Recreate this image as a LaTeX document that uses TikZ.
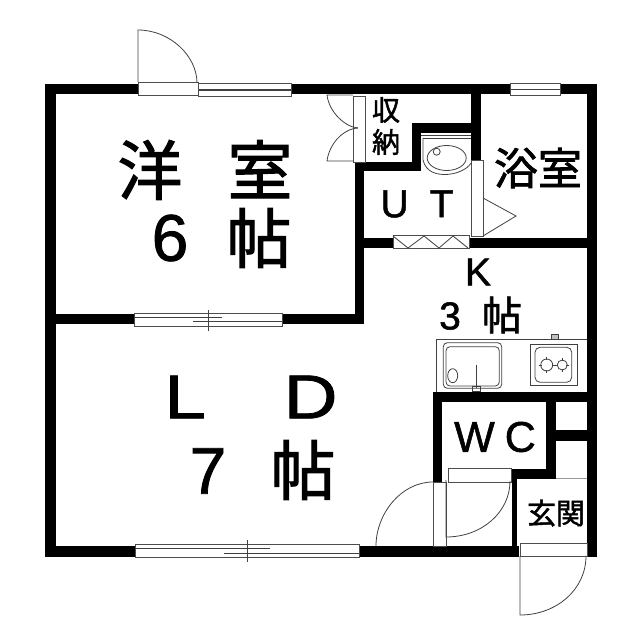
\documentclass[tikz,border=0pt]{standalone}
\usepackage{fontspec}
\setmainfont[FakeBold=1.2]{Liberation Sans}
\newfontfamily\jpfont[FakeBold=1.6]{Noto Sans CJK JP}
\tikzset{
  wall/.style={fill=black},
  fitting/.style={draw=black!70,line width=0.8pt,fill=white},
  thinline/.style={draw=black!75,line width=0.8pt},
  bigtext/.style={font=\fontsize{65}{65}\selectfont\jpfont,inner sep=0pt},
  digit/.style={font=\fontsize{66}{66}\selectfont,inner sep=0pt},
  roomtext/.style={font=\fontsize{43}{43}\selectfont,inner sep=0pt},
  midtext/.style={font=\fontsize{39}{39}\selectfont,inner sep=0pt},
}
\begin{document}
\begin{tikzpicture}[x=1pt,y=-1pt]
    \useasboundingbox (0,0) rectangle (640,639);

    % walls
    \foreach \xa/\ya/\xb/\yb in {
        45/84/597/94, 45/84/56/557, 45/546/519/557, 587/84/597/557,
        56/314/364/324, 355/162/364/324,
        355/162/421/171, 412/123/421/171, 412/123/471/133, 471/94/481/161,
        355/238/587/248,
        433/392/587/402, 433/392/442/482, 546/392/556/479,
        510/469/556/479, 556/430/587/441, 512/478/517/546}
      \fill [wall] (\xa,\ya) rectangle (\xb,\yb);
    \draw [black!40,line width=0.6pt] (556,478) -- (587,478);

    % windows
    \draw [fitting] (198,83) rectangle (291,96);
    \draw [thinline,line width=1.2pt] (198,90) -- (291,90);
    \draw [fitting] (510,83) rectangle (560,95);
    \draw [thinline] (510,89) -- (560,89);
    \draw [fitting] (134,313) rectangle (282,326);
    \draw [thinline] (134,317.5) -- (222,317.5);
    \draw [thinline] (193,321.5) -- (282,321.5);
    \draw [thinline] (208,310) -- (208,331);
    \draw [fitting] (135,544.5) rectangle (359,557);
    \draw [thinline] (135,548) -- (270,548);
    \draw [thinline] (224,553) -- (359,553);
    \draw [thinline] (247,540) -- (247,562);

    % doors
    \draw [fitting] (138,82) rectangle (198,95);
    \draw [thinline] (138,82) -- (138,30) .. controls (170,30) and (197,56) .. (197,83);
    \draw [fitting] (353,96) rectangle (365,162);
    \draw [thinline] (353,95) -- (327,95) .. controls (329,112) and (345,127) .. (358,128);
    \draw [thinline] (353,161) -- (327,161) .. controls (329,145) and (342,129) .. (358,128);
    \draw [fitting] (471,160) rectangle (483,236);
    \draw [thinline] (483,198) -- (516,216) -- (483,236);
    \draw [fitting] (393,235) rectangle (469,248);
    \draw [thinline] (393,236) -- (408,248) -- (424,236) -- (439,248) -- (453,236) -- (468,248);
    \draw [fitting] (433,482) rectangle (446,546);
    \draw [thinline] (433,482) .. controls (401,482) and (376,514) .. (376,546);
    \draw [fitting] (448,468) rectangle (511,482);
    \draw [thinline] (446,480) -- (446,537) .. controls (482,537) and (510,512) .. (510,481);
    \draw [fitting] (520,543) rectangle (587,556);
    \draw [thinline] (520,556) -- (520,615) .. controls (557,615) and (586,589) .. (586,556);

    % washbasin
    \draw [thinline] (421,135) -- (471,135);
    \draw [thinline] (423,138) -- (471,138);
    \draw [thinline] (423,138) -- (423,160) .. controls (426,173) and (438,174.5) .. (445,174.5) .. controls (455,174.5) and (467,170) .. (471,163);
    \draw [thinline] (446.7,158) ellipse (19.5 and 12.5);
    \draw [thinline] (436.7,151.7) circle (3.5);

    % kitchen
    \draw [thinline] (587,339.5) -- (436.7,339.5) -- (436.7,392);
    \draw [thinline,rounded corners=4pt] (443.3,342.7) rectangle (501.7,388.3);
    \draw [thinline,rounded corners=4pt] (446,346.7) rectangle (499.3,386);
    \draw [thinline] (452.7,375.7) ellipse (5 and 7);
    \draw [thinline] (476.7,365) -- (476.7,388);
    \draw [thinline] (472.7,386) rectangle (480,391);
    \draw [thinline] (530,344) rectangle (577.3,385.7);
    \draw [thinline,rounded corners=5pt] (535,347.3) rectangle (571.7,382.3);
    \draw [thinline] (546.7,365) circle (6);
    \draw [thinline] (562.3,365) circle (5);
    \foreach \cx/\cr in {546.7/6,562.3/5} {
      \draw [thinline] (\cx-\cr-2,365) -- (\cx-\cr+1,365);
      \draw [thinline] (\cx+\cr+2,365) -- (\cx+\cr-1,365);
      \draw [thinline] (\cx,365-\cr-2) -- (\cx,365-\cr+1);
      \draw [thinline] (\cx,365+\cr+2) -- (\cx,365+\cr-1);
    }
    \draw [thinline,fill=black!25] (551,334.5) rectangle (558,339.5);

    % add labels
    \node [bigtext] (youshitsu) at (205,170) {洋\hspace{45pt}室};
    \node [digit] (six) at (170,238) {6};
    \node [bigtext] (jou1) at (259,238) {帖};
    \node [digit,font=\fontsize{62}{62}\selectfont,transform shape,xscale=1.2] (ld) at (251,397) {L\hspace{65pt}D};
    \node [digit] (seven) at (208,471) {7};
    \node [bigtext] (jou2) at (303,470) {帖};
    \node [midtext,font=\fontsize{28}{32}\selectfont\jpfont,align=center] (shuno) at (386,126) {収\\納};
    \node [roomtext,font=\fontsize{44}{44}\selectfont\jpfont] (bath) at (538,168) {浴室};
    \node [midtext] (ut) at (417,204) {U\hspace{21pt}T};
    \node [midtext] (kay) at (478,272) {K};
    \node [midtext] (three) at (450,316) {3};
    \node [midtext,font=\fontsize{40}{40}\selectfont\jpfont] (jou3) at (502,315) {帖};
    \node [roomtext] (wc) at (495,437) {W\hspace{10pt}C};
    \node [midtext,font=\fontsize{29}{29}\selectfont\jpfont] (genkan) at (556,513) {玄関};
\end{tikzpicture}
\end{document}
